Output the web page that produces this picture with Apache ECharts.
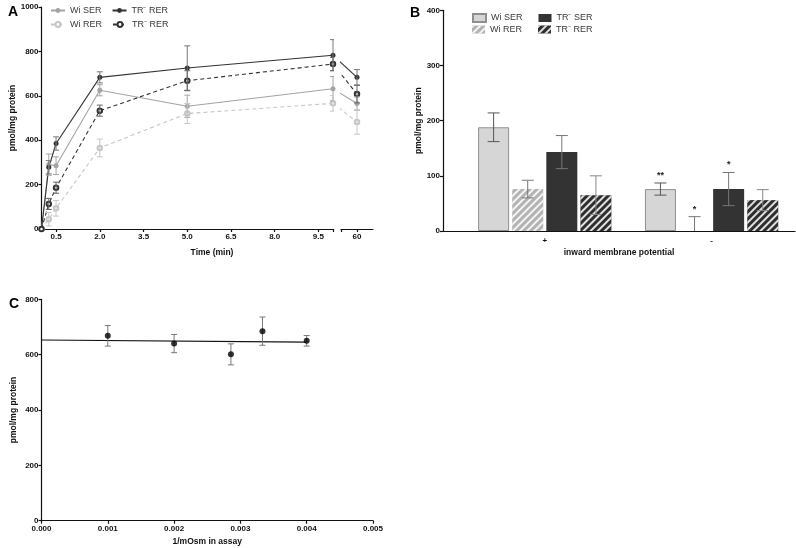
<!DOCTYPE html>
<html>
<head>
<meta charset="utf-8">
<script src="https://cdn.jsdelivr.net/npm/echarts@6/dist/echarts.min.js"></script>
<style>
  html, body { margin: 0; padding: 0; background: #fff; }
  #chart { width: 796px; height: 548px; }
</style>
</head>
<body>
<div id="chart"></div>
<script>
var chart = echarts.init(document.getElementById('chart'));

// panel A: uptake over time (pmol/mg protein)
var times = [0, 0.25, 0.5, 2, 5, 10];
var lateTime = 60;
var wiSer = [0, 290, 285, 625, 553, 632];
var wiSerErr = [0, 48, 40, 25, 50, 55];
var wiSer60 = [565, 30];
var wiRer = [0, 44, 93, 365, 520, 566];
var wiRerErr = [0, 30, 35, 40, 45, 35];
var wiRer60 = [482, 55];
var trSer = [0, 278, 385, 683, 725, 783];
var trSerErr = [0, 30, 30, 25, 100, 70];
var trSer60 = [683, 35];
var trRer = [0, 113, 186, 533, 668, 743];
var trRerErr = [0, 25, 25, 25, 45, 30];
var trRer60 = [608, 40];
var timeTicks = [0.5, 2.0, 3.5, 5.0, 6.5, 8.0, 9.5];

// panel B: membrane potential
var potentialLabels = ['+', '-'];
var bWiSer = [188, 76];
var bWiSerErr = [26, 11];
var bWiRer = [76, 0];
var bWiRerErr = [16, 26];
var bTrSer = [143, 76];
var bTrSerErr = [30, 30];
var bTrRer = [65, 56];
var bTrRerErr = [35, 19];
var bSig = [['', '**'], ['', '*'], ['', '*'], ['', '']];

// panel C: osmolarity
var invOsm = [0.001, 0.002, 0.002857, 0.003333, 0.004];
var osmUptake = [668, 640, 601, 685, 650];
var osmErr = [37, 33, 38, 51, 19];
var fitLine = [[0, 653], [0.004, 645]];

var FONT = '"Liberation Sans", Arial, sans-serif';
var names = {
  aWiSer: 'Wi SER', aWiRer: 'Wi RER', aTrSer: 'TR⁻ RER', aTrRer: 'TR⁻ RER',
  bWiSer: 'Wi SER', bWiRer: 'Wi RER', bTrSer: 'TR⁻ SER', bTrRer: 'TR⁻ RER'
};
// where the 10 min point sits on the scale of the short segment after the break
var BREAK_FROM = 55.5;

function pairs(xs, ys) {
  return xs.map(function (x, i) { return [x, ys[i]]; });
}
function errData(xs, ys, es) {
  return xs.map(function (x, i) { return [x, ys[i], es[i]]; });
}

function errRender(color, cap, offset, marks) {
  return function (params, api) {
    var x = api.value(0), y = api.value(1), e = api.value(2);
    if (!e) return null;
    var t = api.coord([x, y + e]);
    var b = api.coord([x, y - e]);
    var cx = t[0] + (offset || 0);
    var st = { stroke: color, lineWidth: 1 };
    var kids = [
      { type: 'line', shape: { x1: cx, y1: t[1], x2: cx, y2: b[1] }, style: st },
      { type: 'line', shape: { x1: cx - cap, y1: t[1], x2: cx + cap, y2: t[1] }, style: st },
      { type: 'line', shape: { x1: cx - cap, y1: b[1], x2: cx + cap, y2: b[1] }, style: st }
    ];
    if (marks && marks[params.dataIndex]) {
      kids.push({ type: 'text', x: cx, y: t[1] - 3, style: {
        text: marks[params.dataIndex], fill: '#222', font: 'bold 9px ' + FONT,
        align: 'center', verticalAlign: 'bottom' } });
    }
    return { type: 'group', children: kids };
  };
}

var tickLabel = { fontFamily: FONT, fontSize: 8, fontWeight: 'bold', color: '#111',
  formatter: function (v) { return String(v); } };
var axisName = { fontFamily: FONT, fontSize: 8.5, fontWeight: 'bold', color: '#111' };
var axLine = { show: true, lineStyle: { color: '#111', width: 1.2 } };
var axTick = { show: true, length: 3, lineStyle: { color: '#111', width: 1.2 } };
var legendText = { fontFamily: FONT, fontSize: 9, color: '#3a3a3a' };

function lineSeries(id, ys, color, dashed, empty) {
  return {
    type: 'line', name: id, xAxisIndex: 0, yAxisIndex: 0,
    data: pairs(times, ys),
    symbol: empty ? 'emptyCircle' : 'circle', symbolSize: empty ? 4.5 : 5,
    lineStyle: { color: color, width: 1.1, type: dashed ? [4, 3] : 'solid' },
    itemStyle: { color: color, borderColor: color, borderWidth: empty ? 0.9 : 0 },
    z: 3
  };
}
function lateSeries(id, ys, last, color, dashed, empty) {
  return {
    type: 'line', name: id + '60', xAxisIndex: 1, yAxisIndex: 1,
    data: [{ value: [BREAK_FROM, ys[ys.length - 1]], symbol: 'none' }, [lateTime, last[0]]],
    symbol: empty ? 'emptyCircle' : 'circle', symbolSize: empty ? 4.5 : 5,
    lineStyle: { color: color, width: 1.1, type: dashed ? [4, 3] : 'solid' },
    itemStyle: { color: color, borderColor: color, borderWidth: empty ? 0.9 : 0 },
    clip: true, z: 3
  };
}
function errSeries(xi, data, color, cap, offset, marks) {
  return {
    type: 'custom', xAxisIndex: xi, yAxisIndex: xi, data: data, clip: true,
    renderItem: errRender(color, cap, offset, marks), z: 5, silent: true
  };
}

var cWiSer = '#a3a3a3', cWiRer = '#c6c6c6', cTr = '#333333';
var BAR_W = 31, BAR_GAP = 0.1;
function barOffset(i) { return (i - 1.5) * BAR_W * (1 + BAR_GAP); }
var stripes = function (color) {
  return { symbol: 'rect', symbolSize: 1, color: color,
    dashArrayX: [1, 0], dashArrayY: [2, 3], rotation: -Math.PI / 4 };
};
var bGroups = [1, 2];

var option = {
  animation: false,
  backgroundColor: '#fff',
  textStyle: { fontFamily: FONT },
  title: [
    { text: 'A', left: 3, top: 0, textStyle: { fontFamily: FONT, fontSize: 14, fontWeight: 'bold', color: '#000' } },
    { text: 'B', left: 405, top: 1, textStyle: { fontFamily: FONT, fontSize: 14, fontWeight: 'bold', color: '#000' } },
    { text: 'C', left: 4, top: 292, textStyle: { fontFamily: FONT, fontSize: 14, fontWeight: 'bold', color: '#000' } },
    { text: 'Time (min)', left: 207, top: 243, textAlign: 'center', textStyle: axisName }
  ],
  legend: [
    { data: ['aWiSer', 'aTrSer'], left: 45, top: 1, itemWidth: 14, itemHeight: 6, itemGap: 10,
      formatter: function (n) { return names[n]; }, textStyle: legendText },
    { data: ['aWiRer', 'aTrRer'], left: 45, top: 15, itemWidth: 14, itemHeight: 6, itemGap: 10,
      formatter: function (n) { return names[n]; }, textStyle: legendText },
    { data: ['bWiSer', 'bTrSer'], left: 467, top: 8, itemWidth: 13, itemHeight: 8, itemGap: 16,
      icon: 'rect', formatter: function (n) { return names[n]; }, textStyle: legendText },
    { data: ['bWiRer', 'bTrRer'], left: 467, top: 20, itemWidth: 13, itemHeight: 8, itemGap: 16,
      icon: 'rect', formatter: function (n) { return names[n]; }, textStyle: legendText }
  ],
  grid: [
    { left: 41.5, top: 7, width: 291.5, height: 222 },
    { left: 341, top: 7, width: 32, height: 222 },
    { left: 443, top: 10.3, width: 352, height: 220.7 },
    { left: 41.5, top: 299.3, width: 331.5, height: 221.4 }
  ],
  xAxis: [
    { type: 'value', gridIndex: 0, min: 0, max: 10, axisLine: axLine, splitLine: { show: false },
      axisTick: Object.assign({}, axTick, { customValues: timeTicks.concat([10]) }),
      axisLabel: Object.assign({}, tickLabel, { customValues: timeTicks, margin: 4,
        formatter: function (v) { return v.toFixed(1); } }) },
    { type: 'value', gridIndex: 1, min: 57, max: 63, axisLine: axLine, splitLine: { show: false },
      axisTick: Object.assign({}, axTick, { customValues: [57, lateTime] }),
      axisLabel: Object.assign({}, tickLabel, { customValues: [lateTime], margin: 4 }) },
    { type: 'value', gridIndex: 2, min: 0.39, max: 2.5, axisLine: axLine, splitLine: { show: false },
      axisTick: { show: false },
      axisLabel: Object.assign({}, tickLabel, { customValues: bGroups, margin: 6,
        formatter: function (v) { return potentialLabels[Math.round(v) - 1]; } }),
      name: 'inward membrane potential', nameLocation: 'middle', nameGap: 17, nameTextStyle: axisName },
    { type: 'value', gridIndex: 3, min: 0, max: 0.005, interval: 0.001, axisLine: axLine,
      splitLine: { show: false }, axisTick: axTick,
      axisLabel: Object.assign({}, tickLabel, { margin: 4, showMaxLabel: true,
        formatter: function (v) { return v.toFixed(3); } }),
      name: '1/mOsm in assay', nameLocation: 'middle', nameGap: 16, nameTextStyle: axisName }
  ],
  yAxis: [
    { type: 'value', gridIndex: 0, min: 0, max: 1000, interval: 200, axisLine: axLine, axisTick: axTick,
      splitLine: { show: false }, axisLabel: Object.assign({}, tickLabel, { margin: 3 }),
      name: 'pmol/mg protein', nameLocation: 'middle', nameGap: 23, nameTextStyle: axisName },
    { type: 'value', gridIndex: 1, min: 0, max: 1000, show: false },
    { type: 'value', gridIndex: 2, min: 0, max: 400, interval: 100, axisLine: axLine, axisTick: axTick,
      splitLine: { show: false }, axisLabel: Object.assign({}, tickLabel, { margin: 3 }),
      name: 'pmol/mg protein', nameLocation: 'middle', nameGap: 17, nameTextStyle: axisName },
    { type: 'value', gridIndex: 3, min: 0, max: 800, interval: 200, axisLine: axLine, axisTick: axTick,
      splitLine: { show: false }, axisLabel: Object.assign({}, tickLabel, { margin: 3 }),
      name: 'pmol/mg protein', nameLocation: 'middle', nameGap: 23, nameTextStyle: axisName }
  ],
  series: [
    // panel A
    lineSeries('aWiSer', wiSer, cWiSer, false, false),
    lineSeries('aWiRer', wiRer, cWiRer, true, true),
    lineSeries('aTrSer', trSer, cTr, false, false),
    lineSeries('aTrRer', trRer, cTr, true, true),
    lateSeries('aWiSer', wiSer, wiSer60, cWiSer, false, false),
    lateSeries('aWiRer', wiRer, wiRer60, cWiRer, true, true),
    lateSeries('aTrSer', trSer, trSer60, cTr, false, false),
    lateSeries('aTrRer', trRer, trRer60, cTr, true, true),
    errSeries(0, errData(times, wiSer, wiSerErr), cWiSer, 3),
    errSeries(0, errData(times, wiRer, wiRerErr), cWiRer, 3),
    errSeries(0, errData(times, trSer, trSerErr), '#777', 3),
    errSeries(0, errData(times, trRer, trRerErr), '#666', 3),
    errSeries(1, [[lateTime, wiSer60[0], wiSer60[1]]], cWiSer, 3),
    errSeries(1, [[lateTime, wiRer60[0], wiRer60[1]]], cWiRer, 3),
    errSeries(1, [[lateTime, trSer60[0], trSer60[1]]], '#777', 3),
    errSeries(1, [[lateTime, trRer60[0], trRer60[1]]], '#666', 3),
    // panel B
    { type: 'bar', name: 'bWiSer', xAxisIndex: 2, yAxisIndex: 2, data: pairs(bGroups, bWiSer),
      barWidth: BAR_W, barGap: '10%', itemStyle: { color: '#d6d6d6', borderColor: '#8f8f8f', borderWidth: 1 } },
    { type: 'bar', name: 'bWiRer', xAxisIndex: 2, yAxisIndex: 2, data: pairs(bGroups, bWiRer),
      barWidth: BAR_W, barGap: '10%', itemStyle: { color: '#b3b3b3', decal: stripes('rgba(255,255,255,0.85)') } },
    { type: 'bar', name: 'bTrSer', xAxisIndex: 2, yAxisIndex: 2, data: pairs(bGroups, bTrSer),
      barWidth: BAR_W, barGap: '10%', itemStyle: { color: '#333333' } },
    { type: 'bar', name: 'bTrRer', xAxisIndex: 2, yAxisIndex: 2, data: pairs(bGroups, bTrRer),
      barWidth: BAR_W, barGap: '10%', itemStyle: { color: '#2e2e2e', decal: stripes('rgba(255,255,255,0.85)') } },
    errSeries(2, errData(bGroups, bWiSer, bWiSerErr), '#555', 6, barOffset(0), bSig[0]),
    errSeries(2, errData(bGroups, bWiRer, bWiRerErr), '#777', 6, barOffset(1), bSig[1]),
    errSeries(2, errData(bGroups, bTrSer, bTrSerErr), '#777', 6, barOffset(2), bSig[2]),
    errSeries(2, errData(bGroups, bTrRer, bTrRerErr), '#888', 6, barOffset(3), bSig[3]),
    // panel C
    { type: 'line', xAxisIndex: 3, yAxisIndex: 3, data: fitLine, symbol: 'none',
      lineStyle: { color: '#111', width: 1.2 }, z: 2 },
    errSeries(3, errData(invOsm, osmUptake, osmErr), '#777', 3),
    { type: 'scatter', xAxisIndex: 3, yAxisIndex: 3, data: pairs(invOsm, osmUptake),
      symbolSize: 6, itemStyle: { color: '#000' }, z: 6 }
  ]
};

chart.setOption(option);
</script>
</body>
</html>
